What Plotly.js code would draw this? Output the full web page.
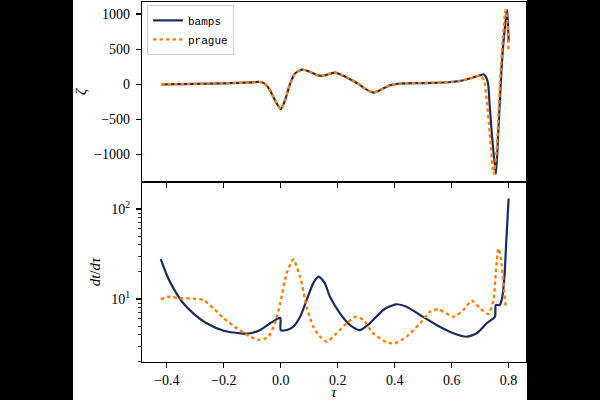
<!DOCTYPE html>
<html>
<head>
<meta charset="utf-8">
<script src="https://cdn.plot.ly/plotly-3.0.1.min.js"></script>
<style>
  html, body { margin: 0; padding: 0; background: #000; width: 600px; height: 400px; overflow: hidden; }
  #chart { position: absolute; left: 73px; top: 0; width: 454px; height: 400px; background: #fff; }
</style>
</head>
<body>
<div id="chart"></div>
<script>
// zeta(tau), bamps solver
const zetaTauBamps = [-0.42, -0.35, -0.25, -0.15, -0.1, -0.075, -0.06, -0.04, -0.02, 0.0, 0.015, 0.033, 0.05, 0.074, 0.103, 0.125, 0.144, 0.165, 0.19, 0.21, 0.24, 0.267, 0.295, 0.325, 0.35, 0.384, 0.42, 0.48, 0.536, 0.6, 0.63, 0.67, 0.70, 0.711, 0.72, 0.728, 0.733, 0.741, 0.7554, 0.7635, 0.7754, 0.787, 0.795, 0.8];
const zetaBamps = [0, 3, 10, 20, 28, 33, 20, -70, -229, -353, -229, 10, 153, 210, 176, 135, 119, 140, 167, 140, 80, 19, -60, -119, -80, -14, 10, 17, 19, 33, 48, 90, 128, 143, 110, 10, -271, -700, -1276, -700, 243, 816, 1057, 604];

// zeta(tau), prague solver
const zetaTauPrague = [-0.42, -0.35, -0.25, -0.15, -0.1, -0.075, -0.06, -0.04, -0.02, 0.0, 0.015, 0.033, 0.05, 0.074, 0.103, 0.125, 0.144, 0.165, 0.19, 0.21, 0.24, 0.267, 0.295, 0.325, 0.35, 0.384, 0.42, 0.48, 0.536, 0.6, 0.63, 0.67, 0.70, 0.705, 0.714, 0.723, 0.734, 0.747, 0.758, 0.7695, 0.781, 0.789, 0.795, 0.8];
const zetaPrague = [0, 3, 10, 20, 28, 33, 20, -70, -229, -353, -229, 10, 153, 210, 176, 135, 119, 140, 167, 140, 80, 19, -60, -119, -80, -14, 10, 17, 19, 33, 48, 90, 125, 105, 60, -229, -705, -1276, -943, 10, 723, 1057, 914, 461];

// dt/dtau, bamps solver
const rateTauBamps = [-0.421, -0.4, -0.377, -0.342, -0.307, -0.26, -0.2, -0.142, -0.107, -0.072, -0.037, -0.008, -0.001, 0.0, 0.021, 0.044, 0.068, 0.091, 0.114, 0.132, 0.138, 0.155, 0.173, 0.208, 0.243, 0.276, 0.313, 0.36, 0.404, 0.442, 0.489, 0.547, 0.606, 0.653, 0.688, 0.723, 0.752, 0.755, 0.769, 0.778, 0.786, 0.792, 0.8];
const rateBamps = [27.8, 18.5, 13.2, 8.96, 6.93, 5.37, 4.44, 4.16, 4.16, 4.53, 5.37, 6.11, 6.15, 4.5, 4.53, 4.92, 6.35, 9.75, 14.9, 17.7, 17.4, 14.9, 10.6, 6.93, 5.14, 4.5, 5.37, 7.55, 8.73, 8.2, 6.64, 5.14, 4.16, 3.81, 4.16, 5.37, 6.35, 8.58, 8.58, 10.6, 19.3, 45, 131];

// dt/dtau, prague solver
const rateTauPrague = [-0.421, -0.394, -0.353, -0.307, -0.271, -0.236, -0.2, -0.154, -0.107, -0.072, -0.044, -0.02, -0.002, 0.021, 0.044, 0.068, 0.091, 0.114, 0.138, 0.161, 0.196, 0.231, 0.264, 0.29, 0.325, 0.372, 0.401, 0.442, 0.489, 0.524, 0.553, 0.606, 0.641, 0.671, 0.7, 0.729, 0.747, 0.755, 0.764, 0.772, 0.782, 0.791, 0.795];
const ratePrague = [9.9, 10.6, 10.2, 10.1, 9.75, 7.87, 6.11, 4.72, 3.81, 3.5, 3.81, 5.37, 8.96, 19.3, 27.6, 17.7, 8.2, 4.92, 3.81, 3.36, 4.16, 5.37, 6.35, 5.84, 4.16, 3.3, 3.22, 3.81, 5.37, 7.23, 7.69, 6.35, 7.55, 9.58, 7.87, 6.81, 9.75, 19.3, 36.5, 29.5, 14.9, 8.2, 8.1];

const xTicks = [-0.4, -0.2, 0.0, 0.2, 0.4, 0.6, 0.8];
const zetaTicks = [-1000, -500, 0, 500, 1000];
const rateTicks = [10, 100];
const rateTickText = ['10<sup>1</sup>', '10<sup>2</sup>'];
const rateMinor = [2, 3, 4, 5, 6, 7, 8, 9, 20, 30, 40, 50, 60, 70, 80, 90, 200];

const navy = '#1c2a5e';
const orange = '#ff7f0e';
const serif = "'Liberation Serif', 'DejaVu Serif', serif";
const mono = "'Liberation Mono', 'DejaVu Sans Mono', monospace";

const solid = { color: navy, width: 2.2, shape: 'spline', smoothing: 0.6 };
const dotted = { color: orange, width: 2.4, dash: '3.5px,3px', shape: 'spline', smoothing: 0.6 };

const traces = [
  { x: zetaTauBamps, y: zetaBamps, xaxis: 'x', yaxis: 'y', mode: 'lines', name: 'bamps', line: solid, legendgroup: 'b' },
  { x: zetaTauPrague, y: zetaPrague, xaxis: 'x', yaxis: 'y', mode: 'lines', name: 'prague', line: dotted, legendgroup: 'p' },
  { x: rateTauBamps, y: rateBamps, xaxis: 'x2', yaxis: 'y2', mode: 'lines', name: 'bamps', line: solid, legendgroup: 'b', showlegend: false },
  { x: rateTauPrague, y: ratePrague, xaxis: 'x2', yaxis: 'y2', mode: 'lines', name: 'prague', line: dotted, legendgroup: 'p', showlegend: false }
];

const axisBase = {
  showgrid: false, zeroline: false, showline: true, linecolor: '#000', linewidth: 1.1,
  mirror: true, ticks: 'outside', ticklen: 5, tickwidth: 1.1, tickcolor: '#000',
  tickfont: { family: serif, size: 14, color: '#000' }
};

const layout = {
  width: 454, height: 400,
  margin: { l: 69, r: 1, t: 2, b: 38 },
  paper_bgcolor: '#fff', plot_bgcolor: '#fff',
  showlegend: true,
  legend: {
    x: 0.013, y: 0.992, xanchor: 'left', yanchor: 'top',
    bgcolor: 'rgba(255,255,255,0.85)', bordercolor: '#cccccc', borderwidth: 1,
    font: { family: mono, size: 11, color: '#000' },
    tracegroupgap: 0, itemwidth: 30
  },
  xaxis: Object.assign({}, axisBase, {
    domain: [0, 1], anchor: 'y', range: [-0.487, 0.861],
    tickvals: xTicks, showticklabels: false
  }),
  yaxis: Object.assign({}, axisBase, {
    domain: [0.5, 1], anchor: 'x', range: [-1390, 1171],
    tickvals: zetaTicks, ticklabelstandoff: 3,
    title: { text: '<i>ζ</i>', font: { family: serif, size: 15, color: '#000' }, standoff: 4 }
  }),
  xaxis2: Object.assign({}, axisBase, {
    domain: [0, 1], anchor: 'y2', range: [-0.487, 0.861], matches: 'x',
    tickvals: xTicks, tickformat: '.1f',
    title: { text: '<i>τ</i>', font: { family: serif, size: 15, color: '#000' }, standoff: 4 }
  }),
  yaxis2: Object.assign({}, axisBase, {
    domain: [0, 0.5], anchor: 'x2', type: 'log', range: [0.3, 2.3],
    tickvals: rateTicks, ticktext: rateTickText, ticklabelstandoff: 3,
    minor: { tickvals: rateMinor, ticks: 'outside', ticklen: 3, tickwidth: 0.8, tickcolor: '#000' },
    title: { text: '<i>dt</i>/<i>dτ</i>', font: { family: serif, size: 15, color: '#000' }, standoff: 6 }
  })
};

Plotly.newPlot('chart', traces, layout, { displayModeBar: false, staticPlot: true });
</script>
</body>
</html>
